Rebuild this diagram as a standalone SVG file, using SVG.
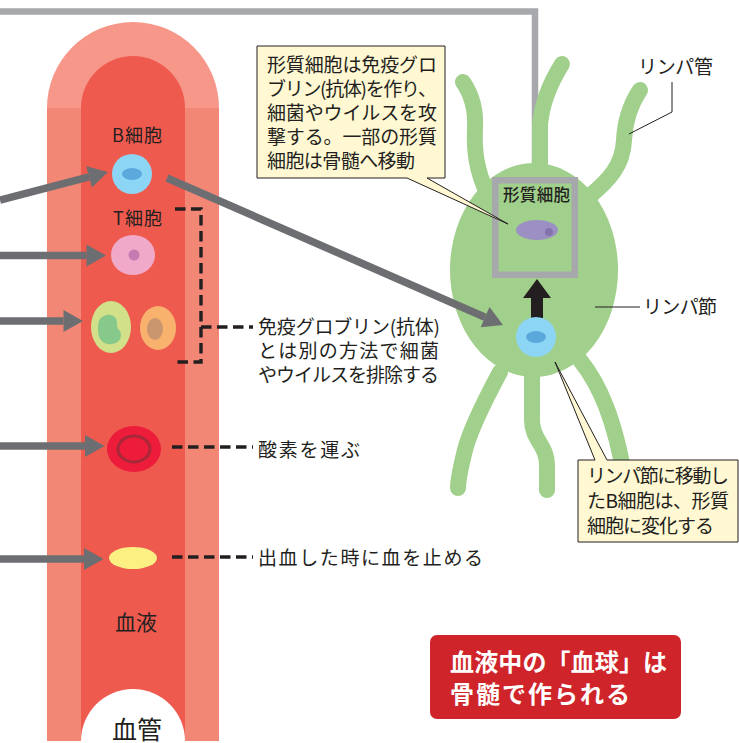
<svg xmlns="http://www.w3.org/2000/svg" width="739" height="743" viewBox="0 0 739 743">
  <style>
    text { font-family: "Noto Sans CJK JP", "Noto Sans", sans-serif; fill: #231f20; }
    .t19 { font-size: 19px; }
    .lbl { font-size: 18px; }
    .feed { fill: none; stroke: #6d6e71; stroke-width: 7.5; marker-end: url(#head); }
    .dash { fill: none; stroke: #231f20; stroke-width: 3.4; stroke-dasharray: 10.5 5.5; }
    .lead { fill: none; stroke: #231f20; stroke-width: 1; }
    .tube { fill: none; stroke: #a0d08b; stroke-width: 16; stroke-linecap: round; }
    .note { fill: #fff8d2; stroke: #231f20; stroke-width: 1; stroke-linejoin: miter; }
    .bcell { fill: #8dd5f4; }
    .bnuc { fill: #5aa8dc; }
  </style>
  <defs>
    <marker id="head" markerUnits="userSpaceOnUse" markerWidth="20" markerHeight="22" refX="0" refY="11" orient="auto" overflow="visible">
      <path d="M0,0 L19.5,11 L0,22 Z" fill="#6d6e71"/>
    </marker>
  </defs>

  <rect width="739" height="743" fill="#ffffff"/>

  <!-- blood vessel -->
  <g id="vessel">
    <path d="M47,108 A86,86 0 0 1 219,108 Z" fill="#f6978a"/>
    <rect x="47" y="108" width="172" height="633" fill="#f38775"/>
    <path d="M81,108 A52,52 0 0 1 185,108 V741 H81 Z" fill="#ef5a4e"/>
    <circle cx="133" cy="741" r="52" fill="#ffffff"/>
    <text x="112" y="739" style="font-size:25px" textLength="50">血管</text>
    <text x="115" y="630" style="font-size:21px" textLength="42">血液</text>
  </g>

  <!-- bone marrow link line -->
  <g id="marrow-link">
    <path d="M0,11.5 H535 V177" fill="none" stroke="#a7a8ac" stroke-width="6.5"/>
  </g>

  <!-- lymph node -->
  <g id="lymph-node">
    <path class="tube" d="M463,82 C472,95 476,110 475,128 C474,150 476,170 488,195"/>
    <path class="tube" d="M562,64 C552,80 542,100 540,125 L540,170"/>
    <path class="tube" d="M640,90 C630,105 625,120 624,140 C623,165 610,180 585,200"/>
    <path class="tube" d="M500,372 C485,400 470,430 465,450 C460,470 458,480 458,488"/>
    <path class="tube" d="M532,370 L532,420 C532,440 547,445 547,465 L547,490"/>
    <path class="tube" d="M580,360 C600,385 615,420 625,480"/>
    <ellipse cx="534" cy="270" rx="84" ry="107" fill="#a0d08b"/>
  </g>

  <!-- plasma cell frame -->
  <g id="plasma-cell">
    <rect x="495.25" y="180.25" width="79.5" height="94.5" fill="none" stroke="#a7a8ac" stroke-width="6.5"/>
    <text x="503" y="200.5" style="font-size:16.5px;font-weight:500" textLength="67">形質細胞</text>
    <ellipse cx="537" cy="230" rx="21" ry="10" fill="#9b8fc4"/>
    <circle cx="549" cy="232" r="4" fill="#8474ad"/>
  </g>

  <!-- B cell inside lymph node -->
  <g id="lymph-bcell">
    <path d="M531,318 V298 H523 L537,279 L551,298 H543 V318 Z" fill="#231f20"/>
    <circle class="bcell" cx="536" cy="337" r="20"/>
    <ellipse class="bnuc" cx="536" cy="337" rx="10" ry="6"/>
  </g>

  <!-- blood cells -->
  <g id="b-cell">
    <text class="lbl" x="112" y="142" textLength="50">B細胞</text>
    <circle class="bcell" cx="132" cy="174" r="20"/>
    <ellipse class="bnuc" cx="132" cy="174" rx="10" ry="6"/>
  </g>
  <g id="t-cell">
    <text class="lbl" x="113" y="225" textLength="49">T細胞</text>
    <ellipse cx="133" cy="255" rx="22" ry="20" fill="#f1a9ca"/>
    <circle cx="134" cy="255" r="5.5" fill="#c57bb2"/>
  </g>
  <g id="granulocyte">
    <ellipse cx="111" cy="327" rx="20" ry="26" fill="#d2e08a"/>
    <path d="M104,316 C112,312 118,318 117,324 C116,328 121,330 121,335 C121,342 114,345 108,344 C101,343 98,337 98,330 C98,322 99,318 104,316 Z" fill="#86c98a"/>
  </g>
  <g id="monocyte">
    <ellipse cx="158" cy="328" rx="18" ry="22" fill="#f8b26e"/>
    <ellipse cx="155" cy="329" rx="8" ry="11" fill="#c9966e"/>
  </g>
  <g id="red-cell">
    <ellipse cx="134" cy="449" rx="27" ry="23" fill="#ec1c3a"/>
    <ellipse cx="134" cy="449" rx="16" ry="13" fill="none" stroke="#a8283a" stroke-width="3"/>
  </g>
  <g id="platelet">
    <ellipse cx="133" cy="558" rx="24" ry="11" fill="#fdf082"/>
  </g>

  <!-- connectors -->
  <g id="connectors">
    <path class="feed" d="M0,200 L89.1,176.9"/>
    <path class="feed" d="M0,255.5 H86.5"/>
    <path class="feed" d="M0,321 H63.5"/>
    <path class="feed" d="M0,446 H85"/>
    <path class="feed" d="M0,559 H84"/>
    <path class="feed" d="M167,178 L485.1,317.2"/>

    <path class="dash" d="M175,209 H201 V362 H175"/>
    <path class="dash" d="M201,327 H253"/>
    <path class="dash" d="M172,447 H253"/>
    <path class="dash" d="M172,557 H253"/>

    <path class="lead" d="M672,82 V112 L629,134"/>
    <path class="lead" d="M595,307 H640"/>
  </g>

  <!-- descriptions -->
  <g id="desc-lymphocyte">
    <text class="t19" x="258" y="334" textLength="182">免疫グロブリン(抗体)</text>
    <text class="t19" x="258" y="358" textLength="181">とは別の方法で細菌</text>
    <text class="t19" x="258" y="382" textLength="181">やウイルスを排除する</text>
  </g>
  <g id="desc-red">
    <text class="t19" x="258" y="456.5" textLength="102">酸素を運ぶ</text>
  </g>
  <g id="desc-platelet">
    <text class="t19" x="258" y="565" textLength="225">出血した時に血を止める</text>
  </g>

  <g id="label-vessel">
    <text class="t19" x="638" y="74" textLength="75">リンパ管</text>
  </g>
  <g id="label-node">
    <text class="t19" x="643" y="314" textLength="74">リンパ節</text>
  </g>

  <!-- callouts -->
  <g id="note-plasma">
    <path class="note" d="M257,46 H445 V178 H427 L508,224 L407,178 H257 Z"/>
    <text class="t19" x="267" y="71.5" textLength="170">形質細胞は免疫グロ</text>
    <text class="t19" x="267" y="95.5" textLength="170">ブリン(抗体)を作り、</text>
    <text class="t19" x="267" y="119.5" textLength="170">細菌やウイルスを攻</text>
    <text class="t19" x="267" y="143.5" textLength="170">撃する。一部の形質</text>
    <text class="t19" x="267" y="167.5" textLength="148">細胞は骨髄へ移動</text>
  </g>
  <g id="note-bcell">
    <path class="note" d="M578,460 H595 L555,362 L607,460 H738 V542 H578 Z"/>
    <text class="t19" x="587" y="482.5" textLength="142">リンパ節に移動し</text>
    <text class="t19" x="587" y="507.5" textLength="142">たB細胞は、形質</text>
    <text class="t19" x="587" y="532.5" textLength="127">細胞に変化する</text>
  </g>

  <!-- summary -->
  <g id="summary">
    <rect x="430" y="635" width="251" height="84" rx="7" fill="#d0242b"/>
    <text x="450" y="671" style="font-size:24px;font-weight:700;fill:#ffffff" textLength="217">血液中の「血球」は</text>
    <text x="450" y="703" style="font-size:24px;font-weight:700;fill:#ffffff" textLength="180">骨髄で作られる</text>
  </g>
</svg>
